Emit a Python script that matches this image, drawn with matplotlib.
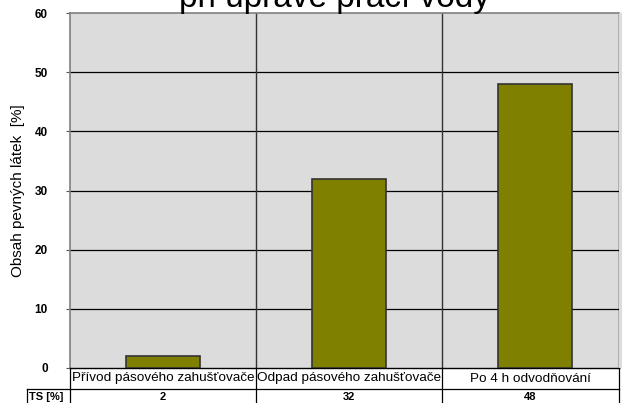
import matplotlib
matplotlib.use("Agg")
import matplotlib.pyplot as plt
from matplotlib.transforms import blended_transform_factory
from matplotlib.lines import Line2D
from matplotlib.patches import Rectangle

plt.rcParams['font.family'] = ['Liberation Sans', 'DejaVu Sans']

categories = ["Přívod pásového zahušťovače", "Odpad pásového zahušťovače", "Po 4 h odvodňování"]
values = [2, 32, 48]
table_row_label = "TS [%]"
yticks = [0, 10, 20, 30, 40, 50, 60]
ylabel = "Obsah pevných látek  [%]"
title_line = "při úpravě prací vody"

W, H = 622, 403
fig = plt.figure(figsize=(W / 100, H / 100), dpi=100)
fig.patch.set_facecolor('white')

L, R, T, B = 70, 619, 13, 368
# gray strip right of the plot area
fig.add_artist(Rectangle((R / W, 1 - B / H), (W - R) / W, (B - T) / H,
                         transform=fig.transFigure, facecolor='#dcdcdc', edgecolor='none'))
ax = fig.add_axes([L / W, 1 - B / H, (R - L) / W, (B - T) / H])
ax.set_facecolor('#dcdcdc')

x = list(range(len(categories)))
ax.bar(x, values, width=0.4, color='#808000', edgecolor='#333333', linewidth=1.2, zorder=3)

xmin, xmax = -0.5, 2.452
ax.set_xlim(xmin, xmax)
ax.set_ylim(0, 60)
ax.set_yticks(yticks)
ax.set_yticklabels([str(v) for v in yticks], fontweight='bold', fontsize=8.5)
ax.tick_params(axis='y', length=3, width=0.8, color='#555555', pad=13)
ax.set_xticks([])
for yv in yticks[1:-1]:
    ax.axhline(yv, color='black', linewidth=0.9, zorder=1)
for xb in [0.5, 1.5]:
    ax.axvline(xb, color='#333333', linewidth=1.0, zorder=1)

for s in ['left', 'top']:
    ax.spines[s].set_color('#808080')
    ax.spines[s].set_linewidth(1.2)
ax.spines['bottom'].set_color('black')
ax.spines['bottom'].set_linewidth(1.0)
ax.spines['right'].set_color('black')
ax.spines['right'].set_linewidth(1.0)

ax.set_ylabel(ylabel, fontsize=11)
ax.yaxis.set_label_coords((25 - L) / (R - L), 0.5)

# data table below
tr = blended_transform_factory(ax.transData, ax.transAxes)
ph = B - T
y_row1 = -(389 - B) / ph
y_row2 = -(420 - B) / ph
bounds = [xmin, 0.5, 1.5, xmax]
for xb in bounds:
    ax.add_line(Line2D([xb, xb], [0, y_row2], transform=tr, color='black', lw=0.9, clip_on=False))
ax.add_line(Line2D([xmin, xmax], [y_row1, y_row1], transform=tr, color='black', lw=0.9, clip_on=False))
for i, (c, v) in enumerate(zip(categories, values)):
    xc = (bounds[i] + bounds[i + 1]) / 2
    ax.text(xc, (0 + y_row1) / 2, c, transform=tr, ha='center', va='center', fontsize=9.7, clip_on=False)
    ax.text(xc, y_row1 - 8 / ph, str(v), transform=tr, ha='center', va='center', fontsize=8,
            fontweight='bold', clip_on=False)

# row label box
fig.add_artist(Line2D([27 / W, 27 / W], [1 - 389 / H, 0], color='black', lw=0.9))
fig.add_artist(Line2D([27 / W, L / W], [1 - 389 / H, 1 - 389 / H], color='black', lw=0.9))
fig.text(29 / W, 1 - 397 / H, table_row_label, ha='left', va='center', fontsize=8, fontweight='bold')

# title (clipped at top as in the reference)
fig.text(335 / W, 1 - 7 / H, title_line, ha='center', va='baseline', fontsize=24)

fig.savefig('out.png', dpi=100)
